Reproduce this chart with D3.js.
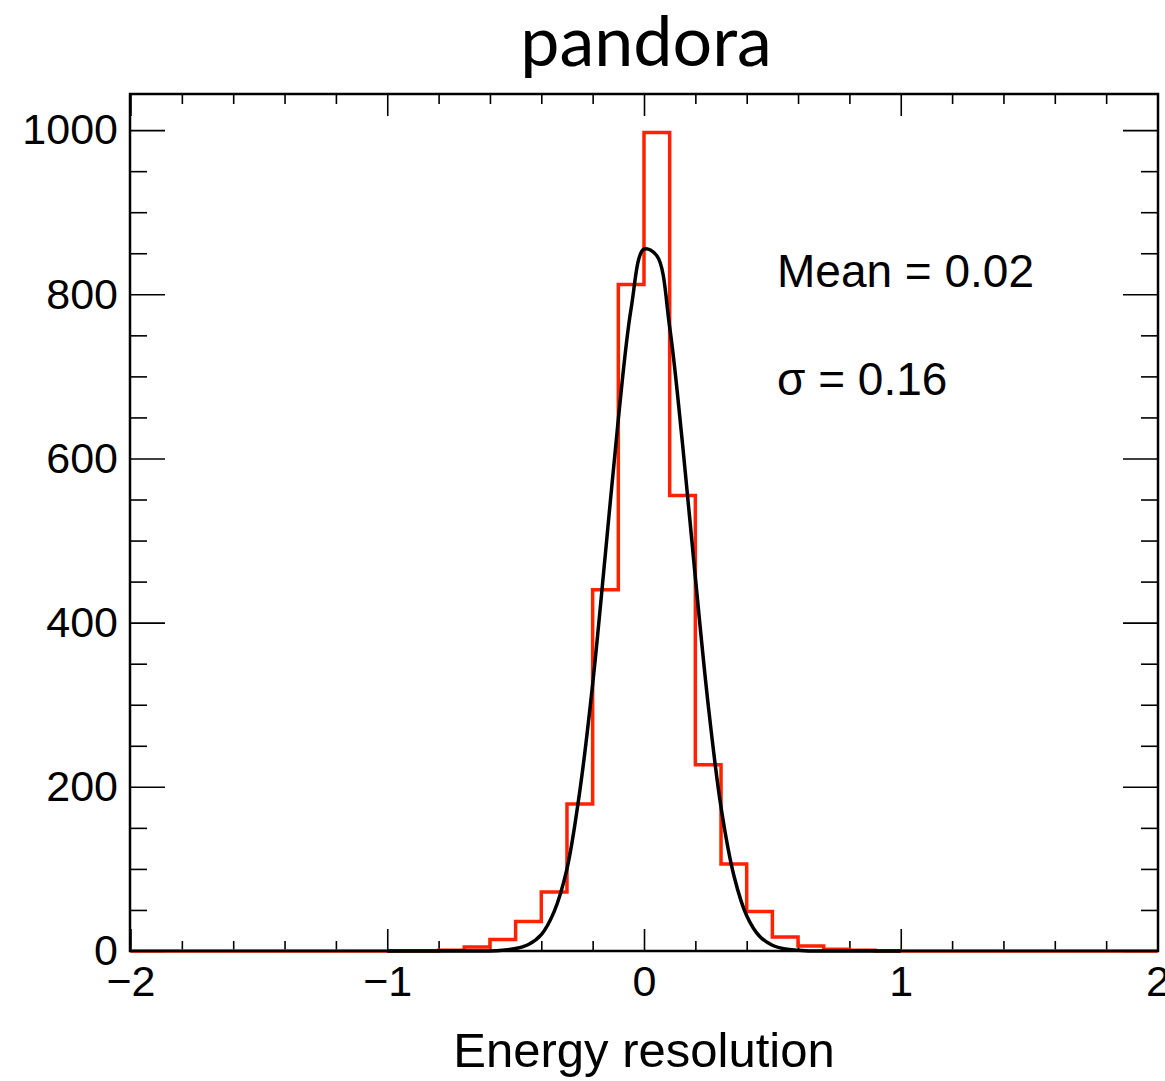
<!DOCTYPE html>
<html>
<head>
<meta charset="utf-8">
<script src="https://cdn.jsdelivr.net/npm/d3@7"></script>
<style>
  body { margin: 0; background: #fff; }
  svg { display: block; }
  .tick line { stroke: #000; stroke-width: 1.6; }
</style>
</head>
<body>
<svg id="chart"></svg>
<script>
  // histogram: 40 bins of 0.1 between -2 and 2
  const binLow = -2;
  const binWidth = 0.1;
  const counts = [
    0, 0, 0, 0, 0, 0, 0, 0, 0, 0,        // -2.0 .. -1.1
    0, 0, 1, 5, 14, 36, 72, 179, 440, 812, // -1.0 .. -0.1
    997, 555, 227, 106, 48, 17, 6, 2, 1, 0, // 0.0 .. 0.9
    0, 0, 0, 0, 0, 0, 0, 0, 0, 0         // 1.0 .. 1.9
  ];

  const fitStart = -1;
  const fitStep = 0.05;
  const fitValues = [
    0, 0, 0, 0, 0, 0, 0, 0, 0,           // -1.00 .. -0.60
    1, 3, 8, 20, 48, 100, 195, 325, 485, 648, 783,  // -0.55 .. -0.05
    855, 847, 760, 618, 455, 300, 175, 92, 43, 18, 7, 2.5, 1, // 0.00 .. 0.60
    0, 0, 0, 0, 0, 0, 0, 0              // 0.65 .. 1.00
  ];

  const xMajor = [-2, -1, 0, 1, 2];
  const yMajor = [0, 200, 400, 600, 800, 1000];
  const title = "pandora";
  const xTitle = "Energy resolution";
  const statLines = ["Mean = 0.02", "σ = 0.16"];

  const width = 1165;
  const height = 1081;
  const frame = {left: 130, right: 1158, top: 94, bottom: 951};

  const svg = d3.select("#chart")
                .attr("width", width)
                .attr("height", height);

  const x = d3.scaleLinear().domain([-2, 2]).range([frame.left + 0.5, frame.right - 0.5]);
  const y = d3.scaleLinear().domain([0, 1044]).range([frame.bottom, frame.top]);

  const xMinor = d3.range(-2, 2.0001, 0.2).filter(v => !xMajor.some(m => Math.abs(m - v) < 1e-6));
  const yMinor = d3.range(0, 1044, 50).filter(v => v % 200 !== 0);

  const sans = "'Liberation Sans', Arial, Helvetica, sans-serif";

  // minor ticks first
  svg.append("g")
     .attr("transform", `translate(0,${frame.bottom})`)
     .call(d3.axisBottom(x).tickValues(xMinor).tickSize(-10).tickFormat(""));
  svg.append("g")
     .attr("transform", `translate(0,${frame.top})`)
     .call(d3.axisTop(x).tickValues(xMinor).tickSize(-10).tickFormat(""));
  svg.append("g")
     .attr("transform", `translate(${frame.left},0)`)
     .call(d3.axisLeft(y).tickValues(yMinor).tickSize(-17).tickFormat(""));
  svg.append("g")
     .attr("transform", `translate(${frame.right},0)`)
     .call(d3.axisRight(y).tickValues(yMinor).tickSize(-17).tickFormat(""));

  // major ticks + labels
  const xAxis = svg.append("g")
     .attr("transform", `translate(0,${frame.bottom})`)
     .call(d3.axisBottom(x).tickValues(xMajor).tickSize(-22).tickPadding(14).tickFormat(d3.format("d")));
  xAxis.selectAll("text").style("font-family", sans).style("font-size", "43px").attr("fill", "#000");

  svg.append("g")
     .attr("transform", `translate(0,${frame.top})`)
     .call(d3.axisTop(x).tickValues(xMajor).tickSize(-22).tickFormat(""));

  const yAxis = svg.append("g")
     .attr("transform", `translate(${frame.left},0)`)
     .call(d3.axisLeft(y).tickValues(yMajor).tickSize(-35).tickPadding(12).tickFormat(d3.format("d")));
  yAxis.selectAll("text").style("font-family", sans).style("font-size", "43px").attr("fill", "#000");

  svg.append("g")
     .attr("transform", `translate(${frame.right},0)`)
     .call(d3.axisRight(y).tickValues(yMajor).tickSize(-35).tickFormat(""));

  svg.selectAll(".domain").remove();

  // histogram outline
  const histPts = [];
  counts.forEach((c, i) => {
    const lo = binLow + i * binWidth;
    histPts.push([lo, c], [lo + binWidth, c]);
  });
  svg.append("path")
     .datum(histPts)
     .attr("fill", "none")
     .attr("stroke", "#ff2200")
     .attr("stroke-width", 3.5)
     .attr("d", d3.line().x(d => x(d[0])).y(d => y(d[1])));

  // fit curve
  svg.append("path")
     .datum(fitValues.map((v, i) => [fitStart + i * fitStep, v]))
     .attr("fill", "none")
     .attr("stroke", "#000")
     .attr("stroke-width", 3.5)
     .attr("stroke-linejoin", "round")
     .attr("d", d3.line().curve(d3.curveCatmullRom).x(d => x(d[0])).y(d => y(Math.max(0, d[1]))));

  // frame
  svg.append("rect")
     .attr("x", frame.left)
     .attr("y", frame.top)
     .attr("width", frame.right - frame.left)
     .attr("height", frame.bottom - frame.top)
     .attr("fill", "none")
     .attr("stroke", "#000")
     .attr("stroke-width", 2.5);

  // texts
  svg.append("text")
     .attr("x", 646)
     .attr("y", 66)
     .attr("text-anchor", "middle")
     .style("font-family", "Lato, 'Open Sans', sans-serif")
     .style("font-size", "70px")
     .text(title);

  svg.append("text")
     .attr("x", x(0))
     .attr("y", 1067)
     .attr("text-anchor", "middle")
     .style("font-family", sans)
     .style("font-size", "49px")
     .text(xTitle);

  svg.selectAll(".stat")
     .data(statLines)
     .enter()
     .append("text")
       .attr("class", "stat")
       .attr("x", 777)
       .attr("y", (d, i) => 287 + i * 108)
       .style("font-family", sans)
       .style("font-size", "46px")
       .text(d => d);
</script>
</body>
</html>
